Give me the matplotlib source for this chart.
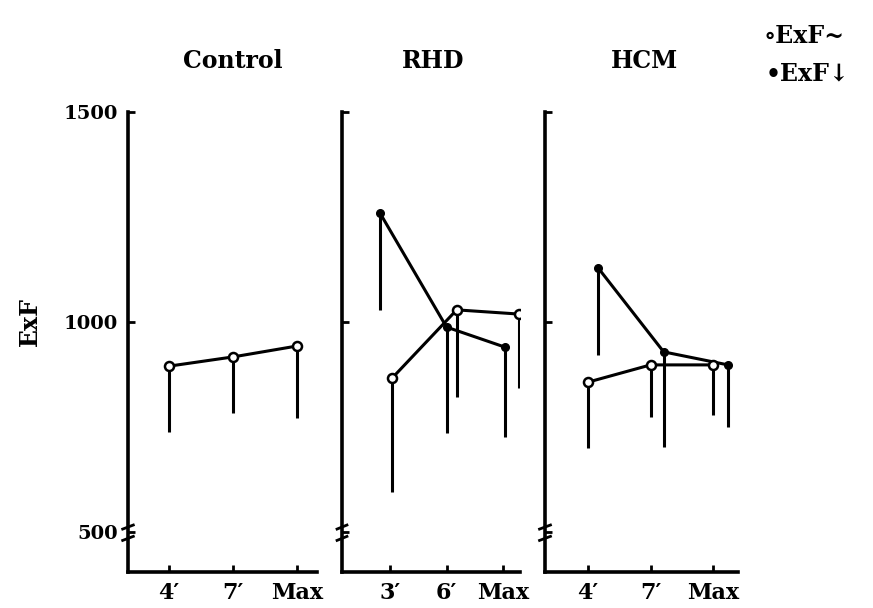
import matplotlib
matplotlib.use("Agg")
import matplotlib.pyplot as plt

# Stage labels for each group
groups = ["Control", "RHD", "HCM"]
stage_labels = {
    "Control": ["4′", "7′", "Max"],
    "RHD": ["3′", "6′", "Max"],
    "HCM": ["4′", "7′", "Max"],
}

# ExF~ series (open circles): mean and lower end of the deviation bar
open_mean = {"Control": [895, 917, 943], "RHD": [867, 1029, 1019], "HCM": [857, 898, 898]}
open_low = {"Control": [738, 783, 771], "RHD": [595, 821, 843], "HCM": [700, 774, 779]}

# ExF↓ series (filled circles)
filled_mean = {"RHD": [1260, 988, 940], "HCM": [1129, 929, 898]}
filled_low = {"RHD": [1029, 736, 726], "HCM": [921, 702, 750]}

y_ticks = [500, 1000, 1500]

# Layout: axes rectangles (figure fraction), x limits and horizontal nudges
W, H = 873, 608
rects = {
    "Control": (128, 189),
    "RHD": (342, 178),
    "HCM": (545, 193),
}
xlims = {"Control": (-0.64, 2.31), "RHD": (-0.85, 2.30), "HCM": (-0.69, 2.40)}
open_nudge = {"Control": [0, 0, 0], "RHD": [0.04, 0.18, 0.28], "HCM": [0, 0, 0]}
filled_nudge = {"RHD": [-0.18, 0.0, 0.04], "HCM": [0.16, 0.21, 0.24]}

serif = ["DejaVu Serif", "DejaVu Sans"]
LW = 2.2

fig = plt.figure(figsize=(W / 100, H / 100), dpi=100)
bottom_px, top_px = 572, 112

for g in groups:
    left, width = rects[g]
    ax = fig.add_axes([left / W, 1 - bottom_px / H, width / W, (bottom_px - top_px) / H])
    ax.set_xlim(*xlims[g])
    ax.set_ylim(405, 1500)
    for s in ("top", "right"):
        ax.spines[s].set_visible(False)
    for s in ("left", "bottom"):
        ax.spines[s].set_linewidth(2.6)
        ax.spines[s].set_capstyle("projecting")

    ax.set_xticks(range(3))
    ax.set_xticklabels(stage_labels[g], fontfamily=serif, fontweight="bold", fontsize=16)
    ax.set_yticks(y_ticks)
    if g == "Control":
        ax.set_yticklabels([str(v) for v in y_ticks], fontfamily=serif,
                           fontweight="bold", fontsize=14)
    else:
        ax.set_yticklabels([])
    ax.tick_params(axis="both", direction="in", length=5, width=2)
    ax.tick_params(axis="x", pad=7)
    ax.tick_params(axis="y", pad=7)

    # axis break marks near 500
    ytr = ax.get_yaxis_transform()
    for y0 in (485, 512):
        ax.plot([-0.035, 0.035], [y0 - 6, y0 + 6], color="black", lw=2,
                transform=ytr, clip_on=False, solid_capstyle="butt")

    # ExF↓ series
    if g in filled_mean:
        xs = [i + d for i, d in enumerate(filled_nudge[g])]
        ax.vlines(xs, filled_low[g], filled_mean[g], color="black", lw=LW, zorder=2)
        ax.plot(xs, filled_mean[g], color="black", lw=LW, marker="o", ms=5.5,
                mfc="black", mec="black", zorder=3)

    # ExF~ series
    xs = [i + d for i, d in enumerate(open_nudge[g])]
    ax.vlines(xs, open_low[g], open_mean[g], color="black", lw=LW, zorder=2)
    ax.plot(xs, open_mean[g], color="black", lw=LW, marker="o", ms=6.5,
            mfc="white", mec="black", mew=1.8, zorder=4)

# Group titles
title_x = {"Control": 233, "RHD": 433, "HCM": 645}
for g in groups:
    fig.text(title_x[g] / W, 1 - 61 / H, g, ha="center", va="center",
             fontfamily=serif, fontweight="bold", fontsize=17)

# Y axis label
fig.text(30 / W, 1 - 322 / H, "ExF", rotation=90, ha="center", va="center",
         fontfamily=serif, fontweight="bold", fontsize=17)

# Legend
fig.text(764 / W, 1 - 36 / H, "∘ExF~", ha="left", va="center",
         fontfamily=serif, fontweight="bold", fontsize=17)
fig.text(766 / W, 1 - 74 / H, "•ExF↓", ha="left", va="center",
         fontfamily=serif, fontweight="bold", fontsize=17)

fig.savefig("out.png", dpi=100)
